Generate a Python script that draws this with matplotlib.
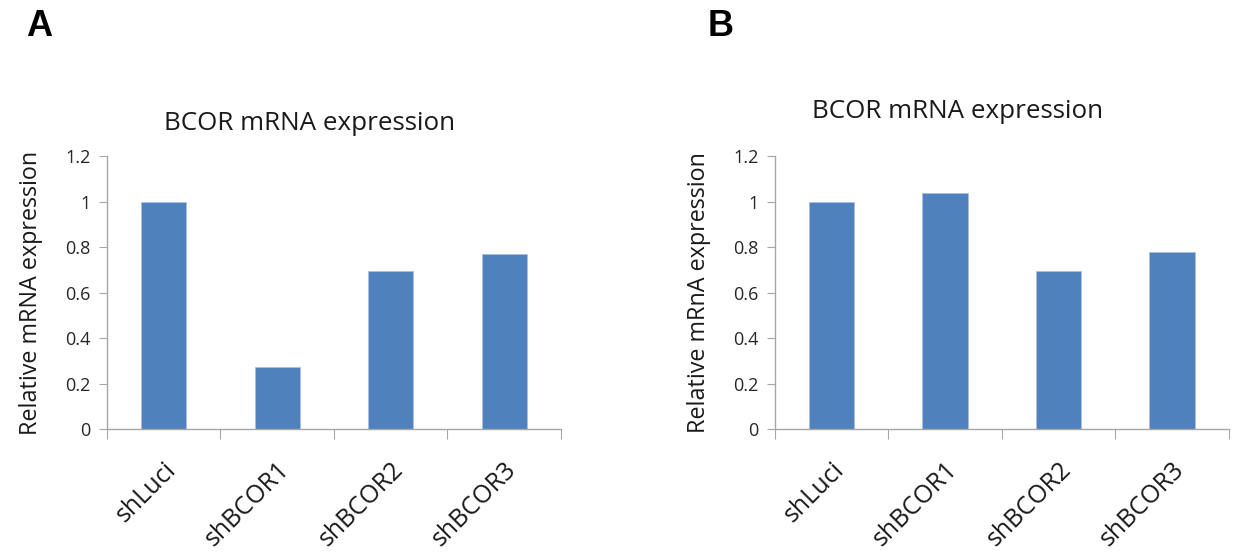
import matplotlib.pyplot as plt
import numpy as np

samples = ['shLuci', 'shBCOR1', 'shBCOR2', 'shBCOR3']
expr_a = [1.0, 0.271, 0.694, 0.768]
expr_b = [1.0, 1.036, 0.694, 0.779]
yticks = [0, 0.2, 0.4, 0.6, 0.8, 1, 1.2]
ytick_labels = ['0', '0.2', '0.4', '0.6', '0.8', '1', '1.2']

plt.rcParams['font.family'] = ['Open Sans', 'DejaVu Sans']
bar_color = '#4F81BD'
axis_color = '#A6A6A6'

fig = plt.figure(figsize=(12.34, 5.57), dpi=100)


def draw_panel(left, values, ylabel):
    ax = fig.add_axes([left, 0.2298, 0.3679, 0.490])
    x = np.arange(len(samples))
    ax.bar(x, values, width=0.4, color=bar_color, edgecolor='#A9C0DE', linewidth=0.6)
    ax.set_xlim(-0.5, len(samples) - 0.5)
    ax.set_ylim(0, 1.2)
    ax.set_yticks(yticks)
    ax.set_yticklabels(ytick_labels, fontsize=13, color='#262626')
    # tick marks between categories, names centred under the bars
    ax.set_xticks(np.arange(len(samples) + 1) - 0.5)
    ax.set_xticklabels([])
    ax.set_xticks(x, minor=True)
    ax.set_xticklabels(samples, minor=True, rotation=45, ha='right', va='top',
                       rotation_mode='anchor', fontsize=18, color='#1a1a1a')
    ax.tick_params(axis='x', which='minor', length=0, pad=20)
    ax.tick_params(axis='x', which='major', length=7, color=axis_color, direction='out')
    ax.tick_params(axis='y', length=6, color=axis_color, direction='out', pad=6)
    for side in ['top', 'right']:
        ax.spines[side].set_visible(False)
    for side in ['left', 'bottom']:
        ax.spines[side].set_color(axis_color)
        ax.spines[side].set_linewidth(1.0)
    ax.set_ylabel(ylabel, fontsize=16.8, color='#1a1a1a', labelpad=16)
    return ax


ax_a = draw_panel(0.0867, expr_a, 'Relative mRNA expression')
ax_b = draw_panel(0.628, expr_b, 'Relative mRnA expression')

fig.text(310 / 1234, 1 - 124 / 557, 'BCOR mRNA expression', fontsize=18.7,
         ha='center', va='center', color='#1a1a1a')
fig.text(958 / 1234, 1 - 112 / 557, 'BCOR mRNA expression', fontsize=18.7,
         ha='center', va='center', color='#1a1a1a')

fig.text(39 / 1234, 1 - 27 / 557, 'A', fontsize=26, fontweight='bold',
         family='Liberation Sans', ha='center', va='center')
fig.text(721 / 1234, 1 - 27 / 557, 'B', fontsize=26, fontweight='bold',
         family='Liberation Sans', ha='center', va='center')

fig.savefig('out.png', dpi=100, facecolor='white')
